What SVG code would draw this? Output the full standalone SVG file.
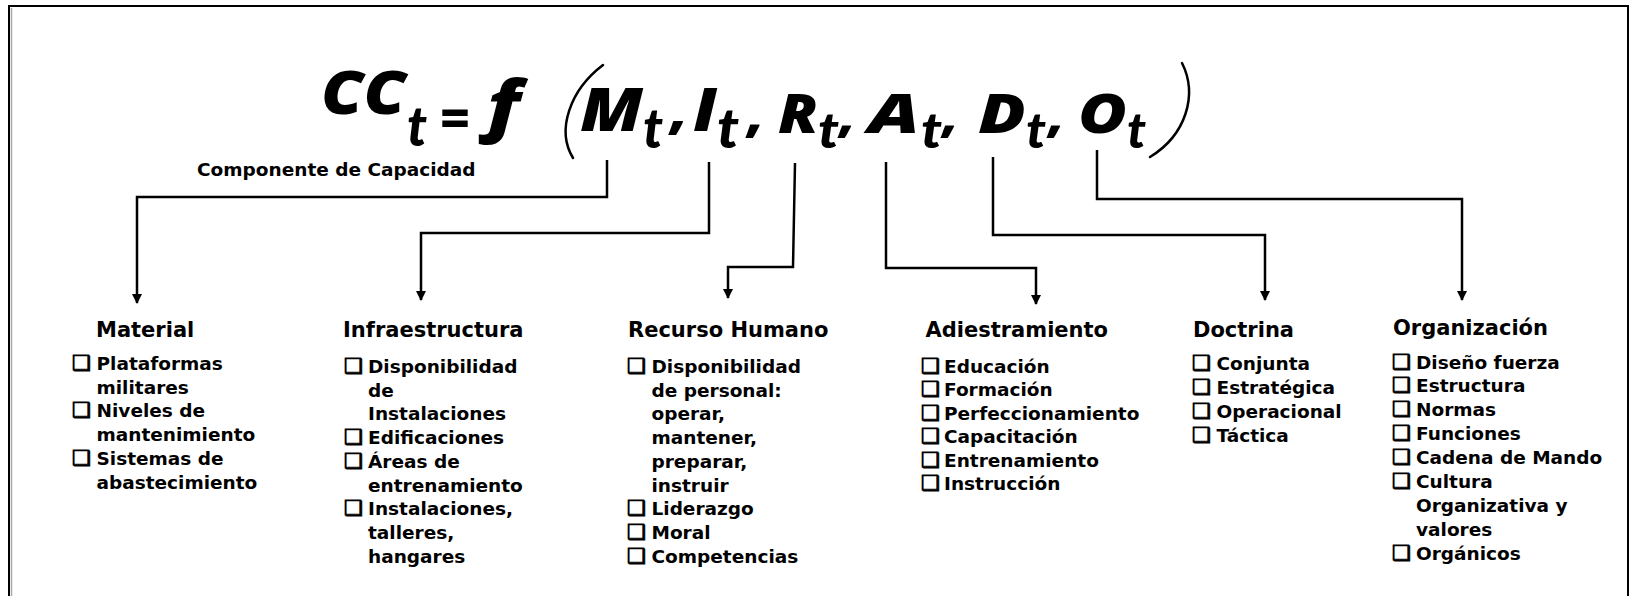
<svg xmlns="http://www.w3.org/2000/svg" width="1631" height="596" viewBox="0 0 1631 596">
<defs>
<style>
.h{font-family:"DejaVu Sans",sans-serif;font-weight:bold;font-size:21px;fill:#000}
.i{font-family:"DejaVu Sans",sans-serif;font-weight:bold;font-size:18.5px;fill:#000}
.b{font-family:"DejaVu Sans",sans-serif;font-size:21px;fill:#000;stroke:#000;stroke-width:0.9}
.f{font-family:"Open Sans",sans-serif;font-style:italic;font-weight:800;fill:#000}
.s{font-family:Lato,sans-serif;font-style:italic;font-weight:900;fill:#000}
.c{fill:none;stroke:#000;stroke-width:2.5}
.p{fill:none;stroke:#000;stroke-width:2.5;stroke-linecap:round}
</style>
<marker id="ah" viewBox="0 0 10 10" refX="9" refY="5" markerWidth="4" markerHeight="4" orient="auto" markerUnits="strokeWidth">
<path d="M0,0 L10,5 L0,10 Z" fill="#000"/>
</marker>
</defs>
<rect width="1631" height="596" fill="#fff"/>
<g id="frame">
<path d="M9,600 V6 H1628 V600" fill="none" stroke="#000" stroke-width="2"/>
<path d="M11.5,8 V600" fill="none" stroke="#aaa" stroke-width="1.5"/>
</g>
<g id="formula">
<text class="f" x="321" y="114" font-size="60" textLength="85" lengthAdjust="spacingAndGlyphs">CC</text>
<text class="s" x="407" y="146" font-size="56" textLength="20" lengthAdjust="spacingAndGlyphs">t</text>
<text class="f" x="440" y="136" font-size="50" textLength="30" lengthAdjust="spacingAndGlyphs">=</text>
<text class="f" x="487" y="129" font-size="68" textLength="33" lengthAdjust="spacingAndGlyphs">f</text>
<path class="p" d="M603,65 C570,90 556,130 573,158"/>
<text class="f" x="580" y="131" font-size="60" textLength="63" lengthAdjust="spacingAndGlyphs">M</text>
<text class="s" x="643" y="148" font-size="56" textLength="20" lengthAdjust="spacingAndGlyphs">t</text>
<text class="f" x="671" y="128" font-size="56">,</text>
<text class="f" x="693" y="131" font-size="60" textLength="24" lengthAdjust="spacingAndGlyphs">I</text>
<text class="s" x="717" y="148" font-size="56" textLength="22" lengthAdjust="spacingAndGlyphs">t</text>
<text class="f" x="748" y="131" font-size="54">,</text>
<text class="f" x="778" y="133" font-size="54" textLength="40" lengthAdjust="spacingAndGlyphs">R</text>
<text class="s" x="818" y="148" font-size="50" textLength="21" lengthAdjust="spacingAndGlyphs">t</text>
<text class="f" x="840" y="131" font-size="52">,</text>
<text class="f" x="868" y="133" font-size="54" textLength="52" lengthAdjust="spacingAndGlyphs">A</text>
<text class="s" x="921" y="148" font-size="50" textLength="21" lengthAdjust="spacingAndGlyphs">t</text>
<text class="f" x="943" y="131" font-size="52">,</text>
<text class="f" x="978" y="133" font-size="54" textLength="48" lengthAdjust="spacingAndGlyphs">D</text>
<text class="s" x="1026" y="148" font-size="50" textLength="20" lengthAdjust="spacingAndGlyphs">t</text>
<text class="f" x="1049" y="131" font-size="52">,</text>
<text class="f" x="1078" y="133" font-size="54" textLength="49" lengthAdjust="spacingAndGlyphs">O</text>
<text class="s" x="1127" y="148" font-size="50" textLength="19" lengthAdjust="spacingAndGlyphs">t</text>
<path class="p" d="M1182,63 C1198,95 1186,135 1150,157"/>
<text class="i" x="197" y="176" font-size="19.2">Componente de Capacidad</text>
</g>
<g id="connectors">
<path class="c" d="M607,160 V197 H137 V303" marker-end="url(#ah)"/>
<path class="c" d="M709,162 V233 H421 V300" marker-end="url(#ah)"/>
<path class="c" d="M795,163 L793,267 H728 V298" marker-end="url(#ah)"/>
<path class="c" d="M886,162 V268 H1036 V304" marker-end="url(#ah)"/>
<path class="c" d="M993,157 V235 H1265 V300" marker-end="url(#ah)"/>
<path class="c" d="M1097,150 V199 H1462 V300" marker-end="url(#ah)"/>
</g>
<g id="material">
<text class="h" x="96" y="337">Material</text>
<text class="b" x="72" y="370">❑</text>
<text class="b" x="72" y="417.4">❑</text>
<text class="b" x="72" y="464.8">❑</text>
<text class="i" x="96.5" y="370"><tspan x="96.5">Plataformas</tspan><tspan x="96.5" dy="23.7">militares</tspan><tspan x="96.5" dy="23.7">Niveles de</tspan><tspan x="96.5" dy="23.7">mantenimiento</tspan><tspan x="96.5" dy="23.7">Sistemas de</tspan><tspan x="96.5" dy="23.7">abastecimiento</tspan></text>
</g>
<g id="infraestructura">
<text class="h" x="343" y="337">Infraestructura</text>
<text class="b" x="344" y="373">❑</text>
<text class="b" x="344" y="444.1">❑</text>
<text class="b" x="344" y="467.8">❑</text>
<text class="b" x="344" y="515.2">❑</text>
<text class="i" x="368" y="373"><tspan x="368">Disponibilidad</tspan><tspan x="368" dy="23.7">de</tspan><tspan x="368" dy="23.7">Instalaciones</tspan><tspan x="368" dy="23.7">Edificaciones</tspan><tspan x="368" dy="23.7">Áreas de</tspan><tspan x="368" dy="23.7">entrenamiento</tspan><tspan x="368" dy="23.7">Instalaciones,</tspan><tspan x="368" dy="23.7">talleres,</tspan><tspan x="368" dy="23.7">hangares</tspan></text>
</g>
<g id="recurso-humano">
<text class="h" x="628" y="337">Recurso Humano</text>
<text class="b" x="627" y="373">❑</text>
<text class="b" x="627" y="515.2">❑</text>
<text class="b" x="627" y="538.9">❑</text>
<text class="b" x="627" y="562.6">❑</text>
<text class="i" x="651.5" y="373"><tspan x="651.5">Disponibilidad</tspan><tspan x="651.5" dy="23.7">de personal:</tspan><tspan x="651.5" dy="23.7">operar,</tspan><tspan x="651.5" dy="23.7">mantener,</tspan><tspan x="651.5" dy="23.7">preparar,</tspan><tspan x="651.5" dy="23.7">instruir</tspan><tspan x="651.5" dy="23.7">Liderazgo</tspan><tspan x="651.5" dy="23.7">Moral</tspan><tspan x="651.5" dy="23.7">Competencias</tspan></text>
</g>
<g id="adiestramiento">
<text class="h" x="925.5" y="337">Adiestramiento</text>
<text class="b" x="921" y="372.5">❑</text>
<text class="b" x="921" y="396">❑</text>
<text class="b" x="921" y="419.5">❑</text>
<text class="b" x="921" y="443">❑</text>
<text class="b" x="921" y="466.5">❑</text>
<text class="b" x="921" y="490">❑</text>
<text class="i" x="944" y="372.5"><tspan x="944">Educación</tspan><tspan x="944" dy="23.5">Formación</tspan><tspan x="944" dy="23.5">Perfeccionamiento</tspan><tspan x="944" dy="23.5">Capacitación</tspan><tspan x="944" dy="23.5">Entrenamiento</tspan><tspan x="944" dy="23.5">Instrucción</tspan></text>
</g>
<g id="doctrina">
<text class="h" x="1193" y="337">Doctrina</text>
<text class="b" x="1192" y="370">❑</text>
<text class="b" x="1192" y="393.9">❑</text>
<text class="b" x="1192" y="417.8">❑</text>
<text class="b" x="1192" y="441.7">❑</text>
<text class="i" x="1216.5" y="370"><tspan x="1216.5">Conjunta</tspan><tspan x="1216.5" dy="23.9">Estratégica</tspan><tspan x="1216.5" dy="23.9">Operacional</tspan><tspan x="1216.5" dy="23.9">Táctica</tspan></text>
</g>
<g id="organizacion">
<text class="h" x="1393" y="335">Organización</text>
<text class="b" x="1392" y="368.5">❑</text>
<text class="b" x="1392" y="392.4">❑</text>
<text class="b" x="1392" y="416.3">❑</text>
<text class="b" x="1392" y="440.2">❑</text>
<text class="b" x="1392" y="464.1">❑</text>
<text class="b" x="1392" y="488">❑</text>
<text class="b" x="1392" y="559.7">❑</text>
<text class="i" x="1416" y="368.5"><tspan x="1416">Diseño fuerza</tspan><tspan x="1416" dy="23.9">Estructura</tspan><tspan x="1416" dy="23.9">Normas</tspan><tspan x="1416" dy="23.9">Funciones</tspan><tspan x="1416" dy="23.9">Cadena de Mando</tspan><tspan x="1416" dy="23.9">Cultura</tspan><tspan x="1416" dy="23.9">Organizativa y</tspan><tspan x="1416" dy="23.9">valores</tspan><tspan x="1416" dy="23.9">Orgánicos</tspan></text>
</g>
</svg>
